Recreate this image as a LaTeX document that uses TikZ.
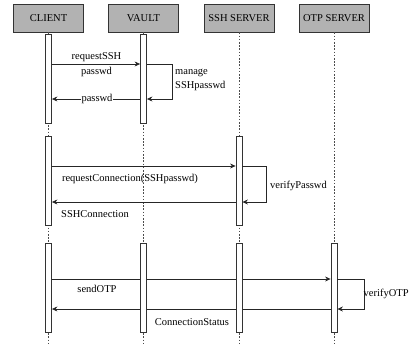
\documentclass[tikz,border=0pt]{standalone}
\usepackage{fontspec}
\setmainfont{Liberation Serif}
\newfontfamily\diagfont{Liberation Serif}
\usetikzlibrary{arrows.meta}
\begin{document}
\begin{tikzpicture}[x=1pt,y=-1pt,
  font=\diagfont\fontsize{10.5}{14}\selectfont,
  head/.style={draw=black!80,fill=black!30,line width=0.8pt,minimum width=70pt,minimum height=28pt,inner sep=0pt},
  life/.style={draw=black!70,dash pattern=on 1.6pt off 1.6pt,line width=0.5pt},
  bar/.style={draw=black!80,fill=white,line width=0.8pt,minimum width=6pt,inner sep=0pt},
  msg/.style={draw=black!85,line width=0.8pt,-{Stealth[length=5.5pt,width=5pt]}},
  lbl/.style={inner sep=1pt}]
\useasboundingbox (0,0) rectangle (411,345);

% participants
\node[head] (client) at (48.5,18) {CLIENT};
\node[head] (vault)  at (143.5,18) {VAULT};
\node[head] (ssh)    at (239,18) {SSH SERVER};
\node[head] (otp)    at (334,18) {OTP SERVER};

% lifelines
\foreach \p in {client,vault,ssh,otp}
  \draw[life] (\p.south) -- (\p.south |- 0,343);

% activation bars
\node[bar,minimum height=89pt] (c1) at (client.south |- 0,78.5) {};
\node[bar,minimum height=89pt] (v1) at (vault.south |- 0,78.5) {};
\node[bar,minimum height=89pt] (c2) at (client.south |- 0,180.5) {};
\node[bar,minimum height=89pt] (s2) at (ssh.south |- 0,180.5) {};
\node[bar,minimum height=89pt] (c3) at (client.south |- 0,287.5) {};
\node[bar,minimum height=89pt] (v3) at (vault.south |- 0,287.5) {};
\node[bar,minimum height=89pt] (s3) at (ssh.south |- 0,287.5) {};
\node[bar,minimum height=89pt] (o3) at (otp.south |- 0,287.5) {};

% phase 1: password request
\draw[msg] (c1.east |- 0,64) -- (v1.west |- 0,64);
\node[lbl,align=center,font=\diagfont\fontsize{10.5}{15}\selectfont] (l1) at (96.5,64.5) {requestSSH\\passwd};
\draw[msg] (v1.east |- 0,64) -- (172,64) -- (172,99) -- (v1.east |- 0,99);
\node[lbl,align=left,anchor=west] (l2) at (174,79.5) {manage\\SSHpasswd};
\draw[msg] (v1.west |- 0,99) -- (c1.east |- 0,99);
\node[lbl,fill=white] (l3) at (97,99) {passwd};

% phase 2: SSH connection
\draw[msg] (c2.east |- 0,166) -- (s2.west |- 0,166);
\node[lbl] (l4) at (130,179) {requestConnection(SSHpasswd)};
\draw[msg] (s2.east |- 0,166) -- (266,166) -- (266,202) -- (s2.east |- 0,202);
\node[lbl,anchor=west] (l5) at (269,185.5) {verifyPasswd};
\draw[msg] (s2.west |- 0,202) -- (c2.east |- 0,202);
\node[lbl,anchor=west] (l6) at (60,214) {SSHConnection};

% phase 3: one-time password
\draw[msg] (c3.east |- 0,279) -- (o3.west |- 0,279);
\node[lbl] (l7) at (97,289) {sendOTP};
\draw[msg] (o3.east |- 0,279) -- (364,279) -- (364,309) -- (o3.east |- 0,309);
\node[lbl,anchor=west,inner sep=0pt] (l8) at (363.5,294) {verifyOTP};
\draw[msg] (o3.west |- 0,309) -- (c3.east |- 0,309);
% bars of the passive participants sit on top of the crossing messages
\node[bar,minimum height=89pt] at (v3) {};
\node[bar,minimum height=89pt] at (s3) {};
\node[lbl] (l9) at (192,322) {ConnectionStatus};
\end{tikzpicture}
\end{document}
